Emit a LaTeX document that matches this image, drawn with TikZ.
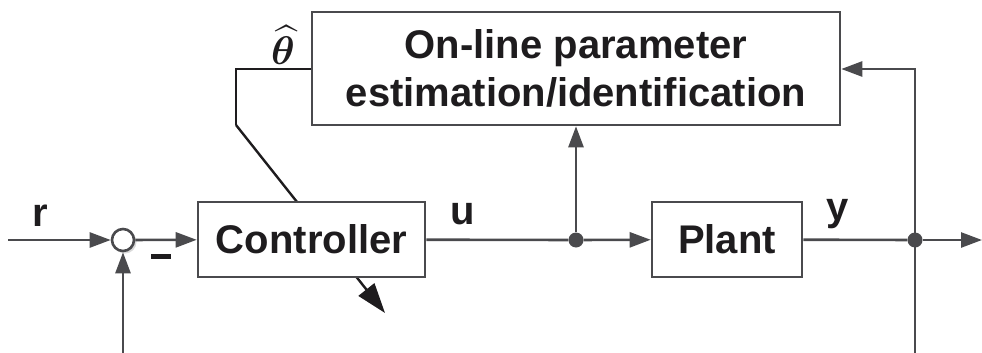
\documentclass[tikz,border=0pt]{standalone}
\usepackage{amsmath,bm}
\usepackage{fontspec}
\setmainfont{Liberation Sans}
\usetikzlibrary{arrows.meta,backgrounds}
\definecolor{wire}{HTML}{4A4A4D}
\definecolor{ink}{HTML}{1E1C1E}
\tikzset{
  block/.style={draw=wire, line width=2.6pt, fill=white, text=ink,
    font=\fontsize{40}{48}\selectfont\bfseries, inner sep=0pt, align=center},
  wireline/.style={draw=wire, line width=2.6pt},
  tip/.style={-{Triangle[length=21pt,width=15pt]}},
  lbl/.style={text=ink, font=\fontsize{40}{48}\selectfont\bfseries, inner sep=0pt},
  dot/.style={circle, fill=wire, minimum size=15pt, inner sep=0pt},
}
\begin{document}
\begin{tikzpicture}[x=1pt, y=-1pt]
\useasboundingbox (0,0) rectangle (982,353);

% blocks
\node[block, minimum width=227pt, minimum height=75pt] (ctrl) at (311.5,239.5) {Controller};
\node[block, minimum width=150pt, minimum height=75pt] (plant) at (727,239.5) {Plant};
\node[block, minimum width=528pt, minimum height=113pt] (est) at (576,68.5)
  {On-line parameter\\estimation/identification};

% summing junction with a soft shadow
\fill[black!15] (125,242) circle (11.5pt);
\node[circle, draw=wire, line width=2.6pt, fill=white, minimum size=22pt, inner sep=0pt] (sum) at (123,240) {};

% branch points and free ends
\node[dot] (j1) at (576,240) {};
\node[dot] (j2) at (915,240) {};
\coordinate (rin) at (8,240);
\coordinate (yout) at (982,240);
\coordinate (fbl) at (123,353);
\coordinate (fbr) at (915,353);
\coordinate (fbtop) at (915,69);
\coordinate (th1) at (236,69);
\coordinate (th2) at (236,125);
\coordinate (th3) at (385,313);

% adaptation arrow crossing the controller
\begin{pgfonlayer}{background}
  \draw[ink, line width=2.4pt, -{Triangle[length=30pt,width=20pt]}] (th2) -- (th3);
\end{pgfonlayer}
\draw[draw=ink, line width=1.2pt] (est.west |- th1) -- (th1) -- (th2);

% signal wires
\draw[wireline, tip] (rin) -- (sum);
\draw[wireline, tip] (sum) -- (ctrl);
\draw[wireline, tip] (fbl) -- (sum);
\draw[wireline] (ctrl) -- (j1);
\draw[wireline, tip] (j1) -- (plant);
\draw[wireline, tip] (j1) -- (est.south);
\draw[wireline] (plant) -- (j2);
\draw[wireline, tip] (j2) -- (yout);
\draw[wireline, tip] (fbr) -- (fbtop) -- (est.east |- fbtop);

% labels
\node[lbl] (r) at (40,216) {r};
\node[lbl] (u) at (463,214) {u};
\node[lbl] (y) at (838,214) {y};
\node[lbl] (minus) at (161,256) {\rule{20pt}{5pt}};
\node[text=ink, inner sep=0pt, scale=4] (theta) at (283,45)
  {$\bm{\widehat{\theta}}$};
\end{tikzpicture}
\end{document}
